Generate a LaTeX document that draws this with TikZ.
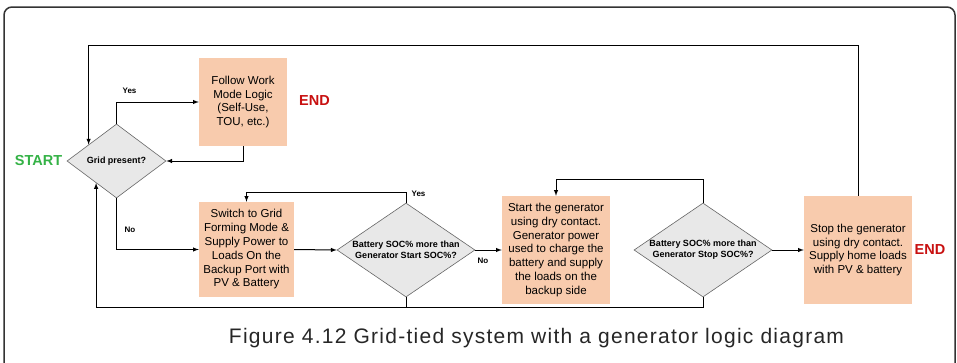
\documentclass[tikz,border=0pt]{standalone}
\usepackage{fontspec}
\setmainfont{Liberation Sans}
\newfontfamily\capfont[LetterSpace=6]{Liberation Sans}
\usetikzlibrary{shapes.geometric,arrows,calc}
\definecolor{genpeach}{RGB}{248,203,173}
\definecolor{gengray}{RGB}{232,232,232}
\definecolor{startgreen}{RGB}{52,178,70}
\definecolor{endred}{RGB}{200,16,16}

\tikzset{
    stepbox/.style={rectangle, fill=genpeach, inner sep=0pt, align=center, font=\fontsize{11.5}{13.8}\selectfont},
    checkbox/.style={diamond, draw=black!60, line width=0.6pt, fill=gengray, inner sep=0pt, align=center, font=\bfseries\fontsize{9}{11}\selectfont},
    flow/.style={-latex, line width=1pt},
    answer/.style={font=\bfseries\fontsize{8}{9}\selectfont},
    termtext/.style={font=\bfseries\fontsize{14.5}{16}\selectfont}
}

\begin{document}
\begin{tikzpicture}[x=1pt, y=-1pt]
    \path[use as bounding box, clip] (0,0) rectangle (957,362);

    % Frame
    \draw[line width=1.5pt, rounded corners=8pt, black!80] (4,380) -- (4,7) -- (955,7) -- (955,380);

    % Check 1: grid present
    \node[checkbox, minimum width=99pt, minimum height=74pt, aspect=1.34] (grid) at (116.5,161) {Grid present?};
    \node[termtext, text=startgreen] (start) at (38.5,161) {START};

    % Grid side
    \node[stepbox, minimum width=88pt, minimum height=88pt] (follow) at (243,102) {Follow Work\\Mode Logic\\(Self-Use,\\TOU, etc.)};
    \node[termtext, text=endred] (endtop) at (314.5,101) {END};

    % Step: grid forming
    \node[stepbox, minimum width=95pt, minimum height=95pt] (switch) at (246.5,249.5) {Switch to Grid\\Forming Mode \&\\Supply Power to\\Loads On the\\Backup Port with\\PV \& Battery};

    % Check 2: start SOC
    \node[checkbox, minimum width=138pt, minimum height=94pt, aspect=1.47] (startsoc) at (406,250) {Battery SOC\% more than\\Generator Start SOC\%?};

    % Step: generator on
    \node[stepbox, minimum width=108pt, minimum height=108pt] (gen) at (556,250) {Start the generator\\using dry contact.\\Generator power\\used to charge the\\battery and supply\\the loads on the\\backup side};

    % Check 3: stop SOC
    \node[checkbox, minimum width=138pt, minimum height=94pt, aspect=1.47] (stopsoc) at (703,250) {Battery SOC\% more than\\Generator Stop SOC\%?};

    % Step: generator off
    \node[stepbox, minimum width=108pt, minimum height=108pt] (stopgen) at (858,250) {Stop the generator\\using dry contact.\\Supply home loads\\with PV \& battery};
    \node[termtext, text=endred] (endright) at (930,250) {END};

    % Answers
    \node[answer] (yes1) at (129.5,91) {Yes};
    \node[answer] (no1) at (130,230) {No};
    \node[answer] (yes2) at (418.5,194) {Yes};
    \node[answer] (no2) at (483,261) {No};

    % Loop points
    \coordinate (looptop) at (0,45);
    \coordinate (loopbot) at (0,307);
    \coordinate (gridin1) at ($(grid.west)!0.44!(grid.north)$);
    \coordinate (gridin2) at ($(grid.west)!0.59!(grid.south)$);

    % Arrows
    \draw[flow] (grid.north) |- (follow.west);
    \draw[flow] (follow.south) |- (grid.east);
    \draw[flow] (grid.south) |- (switch.west);
    \draw[flow] (switch.east) -- (startsoc.west);
    \draw[flow] (startsoc.north) -- ++(0,-10) -| (switch.north);
    \draw[flow] (startsoc.east) -- (gen.west);
    \draw[flow] (stopsoc.north) -- ++(0,-23) -| (gen.north);
    \draw[flow] (stopsoc.east) -- (stopgen.west);
    \draw[flow] (stopgen.north) |- (looptop -| gridin1) -- (gridin1);
    \draw[flow] (stopsoc.south) |- (loopbot -| gridin2) -- (gridin2);
    \draw[line width=1pt] (startsoc.south) -- (startsoc.south |- loopbot);

    % Caption
    \node[font=\capfont\fontsize{21}{24}\selectfont, text=black!85] (caption) at (536.5,338) {Figure 4.12 Grid-tied system with a generator logic diagram};
\end{tikzpicture}
\end{document}
